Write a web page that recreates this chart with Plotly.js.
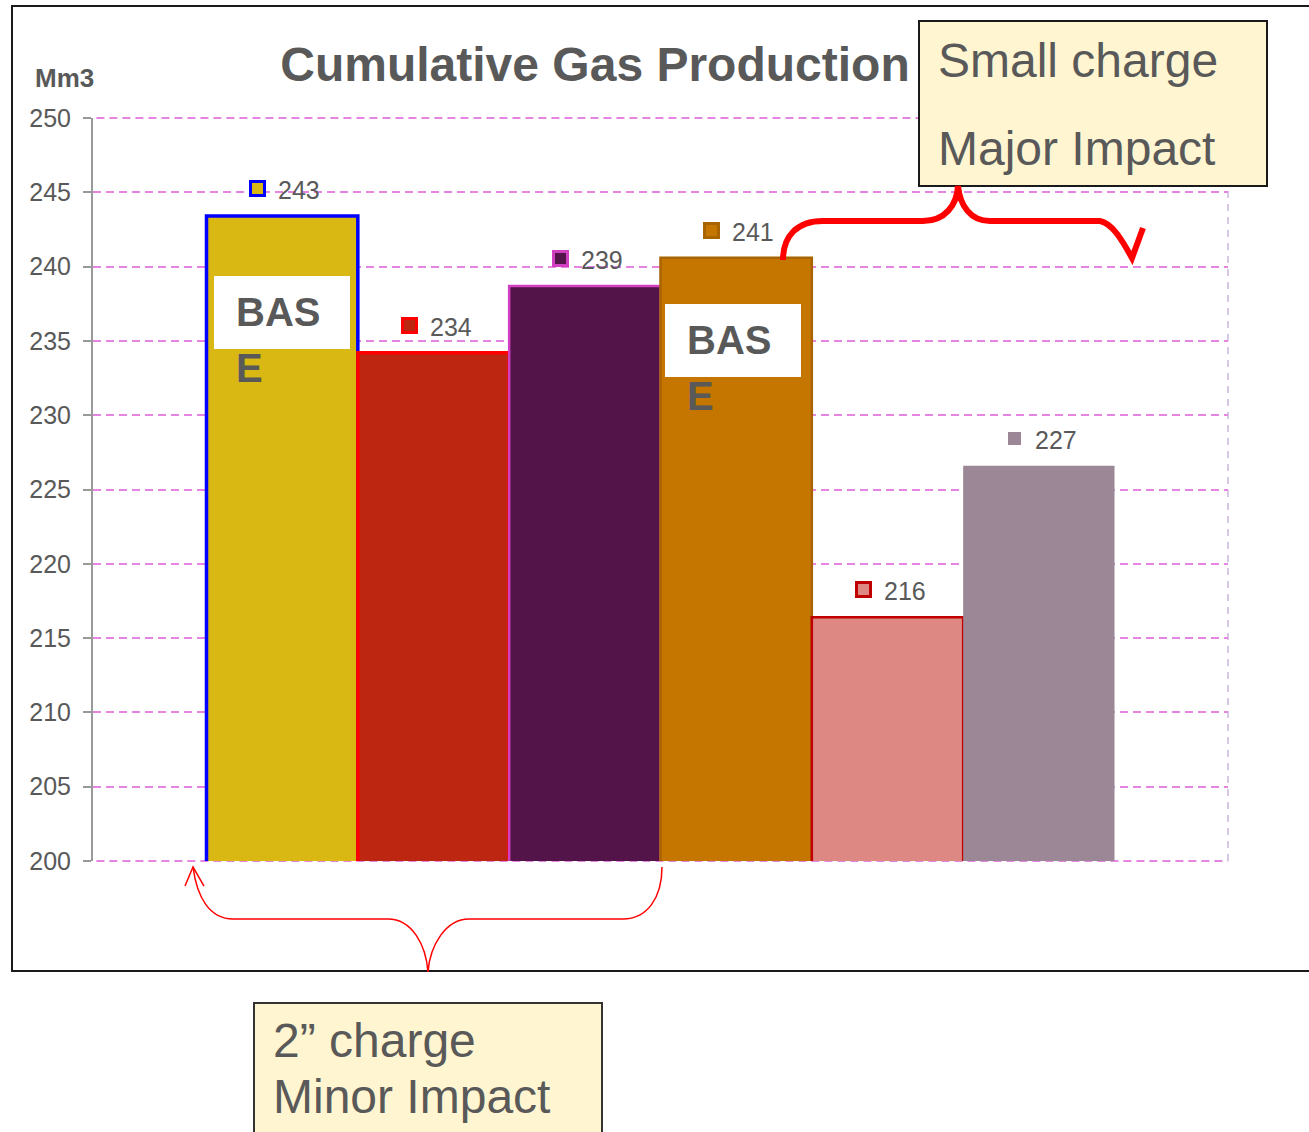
<!DOCTYPE html>
<html><head><meta charset="utf-8">
<script src="https://cdn.plot.ly/plotly-3.0.1.min.js"></script>
<style>html,body{margin:0;padding:0;background:#fff}</style>
</head><body>
<div id="chart" style="width:1309px;height:1132px"></div>
<script>
// ---- data ----
const categories = ['Base 1', 'Case 2', 'Case 3', 'Base 2', 'Case 5', 'Case 6'];
const values = [243.4, 234.2, 238.7, 240.6, 216.4, 226.6];
const fillColors = ['#DAB814', '#BD2711', '#53144A', '#C47600', '#DD8883', '#9B8796'];
const lineColors = ['#0000FF', '#FF0000', '#D040C0', '#A86400', '#C00000', '#9B8796'];
const lineWidths = [3.5, 3.5, 2.5, 2.5, 2.5, 0];
const yTickVals = [200, 205, 210, 215, 220, 225, 230, 235, 240, 245, 250];
const yTickText = ['200', '205', '210', '215', '220', '225', '230', '235', '240', '245', '250'];
const titleText = 'Cumulative Gas Production';
const unitText = 'Mm3';

// ---- geometry helpers (plot area in pixels) ----
const W = 1309, H = 1132, L = 93, R = 1228, T = 118, B = 861;
const px = x => (x - L) / (R - L);
const py = y => (B - y) / (B - T);
const P = (x, y) => px(x).toFixed(5) + ',' + py(y).toFixed(5);
const FONT = 'Liberation Sans, Arial, sans-serif';
const GREY = '#595959';
const GRID = '#E684E2';
const GRIDDASH = '8px,5px';

const trace = {
  type: 'bar',
  x: categories,
  y: values,
  marker: { color: fillColors, line: { color: lineColors, width: lineWidths } },
  hoverinfo: 'x+y',
  showlegend: false
};

const annotations = [];
categories.forEach((c, i) => {
  const bw = lineWidths[i] ? 3 : 0;
  annotations.push({
    x: c, y: values[i], xref: 'x', yref: 'y', text: ' ', showarrow: false,
    width: bw ? 11 : 13, height: bw ? 11 : 13, bgcolor: fillColors[i], bordercolor: lineColors[i],
    borderwidth: bw, borderpad: 0,
    xanchor: 'center', yanchor: 'middle', xshift: -24.5, yshift: 27.5,
    font: { size: 4 }
  });
  annotations.push({
    x: c, y: values[i], xref: 'x', yref: 'y', text: String(Math.round(values[i])),
    showarrow: false, xanchor: 'center', yanchor: 'middle', xshift: 17, yshift: 26,
    font: { family: FONT, size: 25, color: GREY }
  });
});

function txt(text, x, y, size, bold, anchor) {
  return {
    xref: 'paper', yref: 'paper', x: px(x), y: py(y), text: text, showarrow: false,
    xanchor: anchor || 'left', yanchor: 'middle',
    font: { family: FONT, size: size, color: GREY, weight: bold ? 'bold' : 'normal' }
  };
}
annotations.push(txt(unitText, 33, 78, 26, true));
annotations.push(txt('BAS', 234, 312, 40, true));
annotations.push(txt('E', 234, 368, 40, true));
annotations.push(txt('BAS', 685, 340, 40, true));
annotations.push(txt('E', 685, 396, 40, true));
annotations.push(txt('Small charge', 936, 60, 48, false));
annotations.push(txt('Major Impact', 936, 148, 48, false));
annotations.push(txt('2\u201D charge', 271, 1040, 48, false));
annotations.push(txt('Minor Impact', 271, 1096, 48, false));

const shapes = [
  // outer frame
  { type: 'rect', xref: 'paper', yref: 'paper', x0: px(12), x1: px(1330), y0: py(6), y1: py(971),
    line: { color: '#1a1a1a', width: 2 }, fillcolor: 'rgba(0,0,0,0)', layer: 'below' },
  // grid lines on the range edges (Plotly omits them)
  { type: 'line', xref: 'paper', yref: 'paper', x0: 0.003, x1: 1, y0: 0, y1: 0,
    line: { color: GRID, width: 2, dash: GRIDDASH }, layer: 'below' },
  { type: 'line', xref: 'paper', yref: 'paper', x0: 0.003, x1: 1, y0: 1, y1: 1,
    line: { color: GRID, width: 2, dash: GRIDDASH }, layer: 'below' },
  // right dashed border of plot area
  { type: 'line', xref: 'paper', yref: 'paper', x0: 1, x1: 1, y0: 0, y1: 1,
    line: { color: '#D6C8E6', width: 2, dash: '7px,6px' }, layer: 'below' },
  // BASE boxes
  { type: 'rect', xref: 'paper', yref: 'paper', x0: px(214), x1: px(350), y0: py(276), y1: py(349),
    fillcolor: '#FFFFFF', line: { width: 0 }, layer: 'above' },
  { type: 'rect', xref: 'paper', yref: 'paper', x0: px(665), x1: px(801), y0: py(304), y1: py(377),
    fillcolor: '#FFFFFF', line: { width: 0 }, layer: 'above' },
  // callout boxes
  { type: 'rect', xref: 'paper', yref: 'paper', x0: px(919), x1: px(1267), y0: py(21), y1: py(186),
    fillcolor: '#FFF5D0', line: { color: '#1a1a1a', width: 2 }, layer: 'above' },
  { type: 'rect', xref: 'paper', yref: 'paper', x0: px(254), x1: px(602), y0: py(1003), y1: py(1145),
    fillcolor: '#FFF5D0', line: { color: '#333333', width: 2 }, layer: 'above' },
  // thick brace (top right)
  { type: 'path', xref: 'paper', yref: 'paper', layer: 'above',
    path: 'M' + P(783, 260) + ' C' + P(783, 236) + ' ' + P(797, 221) + ' ' + P(823, 221) +
          ' L' + P(923, 221) + ' C' + P(945, 221) + ' ' + P(957, 205) + ' ' + P(958, 186) +
          ' C' + P(960, 205) + ' ' + P(970, 221) + ' ' + P(990, 221) +
          ' L' + P(1100, 221) + ' C' + P(1112, 223) + ' ' + P(1122, 240) + ' ' + P(1132, 258) +
          ' L' + P(1143, 228),
    line: { color: '#FF0000', width: 6 } },
  // thin brace (bottom)
  { type: 'path', xref: 'paper', yref: 'paper', layer: 'above',
    path: 'M' + P(193, 867) + ' C' + P(197, 898) + ' ' + P(210, 919) + ' ' + P(233, 919) +
          ' L' + P(388, 919) + ' C' + P(412, 919) + ' ' + P(426, 945) + ' ' + P(428, 972) +
          ' C' + P(430, 945) + ' ' + P(446, 919) + ' ' + P(469, 919) +
          ' L' + P(623, 919) + ' C' + P(647, 919) + ' ' + P(662, 898) + ' ' + P(662, 867),
    line: { color: '#FF0000', width: 1.5 } },
  { type: 'path', xref: 'paper', yref: 'paper', layer: 'above',
    path: 'M' + P(185, 886) + ' L' + P(193, 867) + ' L' + P(204, 886),
    line: { color: '#FF0000', width: 1.5 } }
];

const layout = {
  width: W, height: H,
  margin: { l: L, r: W - R, t: T, b: H - B, pad: 0 },
  paper_bgcolor: '#FFFFFF', plot_bgcolor: 'rgba(0,0,0,0)',
  font: { family: FONT, color: GREY },
  title: {
    text: titleText, xref: 'container', yref: 'container',
    x: 595 / W, xanchor: 'center', y: 1 - 64 / H, yanchor: 'middle',
    font: { family: FONT, size: 48, color: GREY, weight: 'bold' }
  },
  bargap: 0,
  xaxis: {
    type: 'category', range: [-1.25, 6.25], showticklabels: false, ticks: '',
    showgrid: false, zeroline: false, showline: false, fixedrange: true
  },
  yaxis: {
    range: [200, 250], tickvals: yTickVals, ticktext: yTickText,
    showgrid: true, gridcolor: GRID, gridwidth: 2, griddash: GRIDDASH,
    zeroline: false, showline: true, linecolor: '#999999', linewidth: 2,
    ticks: 'outside', ticklen: 8, tickwidth: 2, tickcolor: '#999999',
    ticklabelstandoff: 7,
    tickfont: { family: FONT, size: 25, color: GREY }, fixedrange: true
  },
  annotations: annotations,
  shapes: shapes
};

Plotly.newPlot('chart', [trace], layout, { displayModeBar: false, staticPlot: true });
</script>
</body></html>
